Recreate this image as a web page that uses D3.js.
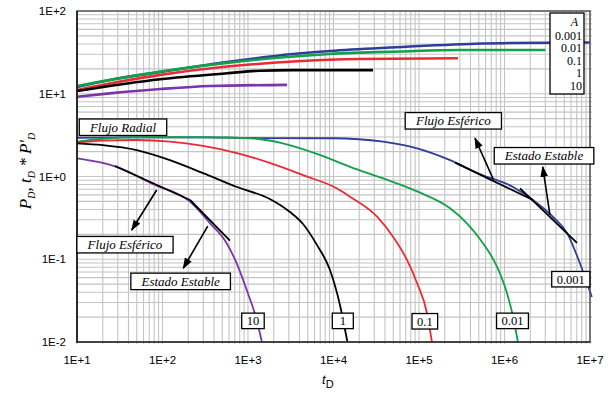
<!DOCTYPE html>
<html>
<head>
<meta charset="utf-8">
<script src="https://cdn.jsdelivr.net/npm/d3@7"></script>
<style>
  body { margin: 0; background: #fff; }
  svg { display: block; }
</style>
</head>
<body>
<svg width="613" height="394"></svg>
<script>
// A values (legend order) and colours
const aLabels = ["0.001", "0.01", "0.1", "1", "10"];
const colors = ["#2e3d9c", "#12a04a", "#ea2b36", "#000000", "#7a35a8"];

// dimensionless pressure P_D  [tD, value]
const pd_0001 = [[10,12.1],[24,14.7],[94,18.3],[570,24.2],[3360,30.2],[9100,32.9],[46000,36.2],[394000,39.9],[1.16e6,41],[1e7,41.6]];
const pd_001  = [[10,12.4],[94,18.5],[570,23.6],[3360,28.2],[9100,30.2],[60000,32.4],[302000,33.8],[3e6,33.8]];
const pd_01   = [[10,11.1],[94,16.9],[570,21.3],[3360,24.5],[20400,26.3],[286000,26.8]];
const pd_1    = [[10,10.8],[94,15.0],[570,17.7],[1380,19.0],[3360,19.3],[29000,19.3]];
const pd_10   = [[10,9.2],[24,10.1],[94,11.4],[360,12.4],[2860,12.8]];

// pressure derivative tD*P'_D  [tD, value]
const der_0001 = [[10,2.94],[50,2.97],[300,2.97],[1050,2.92],[9900,2.90],[38000,2.64],[95000,2.19],[231000,1.58],[516000,1.07],[1.26e6,0.746],[2.15e6,0.52],[3.7e6,0.324],[5.4e6,0.207],[7.6e6,0.09],[1.05e7,0.035]];
const der_001  = [[10,2.64],[20,2.86],[50,2.98],[300,2.98],[1050,2.90],[2560,2.52],[6400,1.88],[15600,1.31],[38000,0.95],[95000,0.66],[231000,0.413],[364000,0.272],[561000,0.156],[817000,0.0813],[1.07e6,0.0388],[1.26e6,0.0202],[1.44e6,0.0098]];
const der_01   = [[10,2.56],[20,2.71],[50,2.76],[122,2.64],[298,2.34],[743,1.92],[1800,1.46],[4400,1.04],[11000,0.716],[15600,0.57],[32300,0.327],[49700,0.187],[72400,0.098],[94800,0.0516],[124000,0.0224],[142000,0.0098]];
const der_1    = [[10,2.52],[20,2.40],[50,2.09],[122,1.58],[298,1.10],[743,0.746],[1800,0.535],[3100,0.372],[4400,0.267],[6400,0.149],[9100,0.074],[11900,0.028],[14600,0.0098]];
const der_10   = [[10,1.66],[20,1.46],[29,1.31],[78,0.81],[210,0.497],[360,0.272],[563,0.156],[738,0.089],[966,0.0425],[1265,0.0184],[1460,0.0098]];

const pressure = [pd_0001, pd_001, pd_01, pd_1, pd_10];
const derivative = [der_0001, der_001, der_01, der_1, der_10];

// axis tick labels
const xTickVals = [1e1, 1e2, 1e3, 1e4, 1e5, 1e6, 1e7];
const xTickText = ["1E+1", "1E+2", "1E+3", "1E+4", "1E+5", "1E+6", "1E+7"];
const yTickVals = [1e2, 1e1, 1e0, 1e-1, 1e-2];
const yTickText = ["1E+2", "1E+1", "1E+0", "1E-1", "1E-2"];

// flow regime tangents and arrows [[tD, v], [tD, v]]
const tangents = [
  [[27.8,1.34],[210,0.52]], [[210,0.52],[615,0.1675]],
  [[2.64e5,1.47],[2.15e6,0.52]], [[1.52e6,0.72],[7.05e6,0.158]]
];
const arrows = [
  [[85.5,0.687],[43.6,0.2255]], [[338,0.252],[175,0.0778]],
  [[7.4e5,0.925],[4.52e5,2.9]], [[3.4e6,0.343],[2.8e6,1.31]]
];
const notes = [
  {text: "Flujo Radial", at: [34.5, 3.94]},
  {text: "Flujo Esférico", at: [36.4, 0.150]},
  {text: "Estado Estable", at: [163, 0.054]},
  {text: "Flujo Esférico", at: [2.52e5, 4.71]},
  {text: "Estado Estable", at: [2.9e6, 1.78]}
];
const curveTags = [
  {text: "10", at: [1143, 0.018]},
  {text: "1", at: [12850, 0.018]},
  {text: "0.1", at: [117000, 0.0178]},
  {text: "0.01", at: [1.24e6, 0.018]},
  {text: "0.001", at: [5.96e6, 0.0574]}
];

const svg = d3.select("svg");
const m = {left: 77, right: 590, top: 11, bottom: 342};

const x = d3.scaleLog().domain([1e1, 1e7]).range([m.left, m.right]);
const y = d3.scaleLog().domain([1e-2, 1e2]).range([m.bottom, m.top]);

// grid
const minorX = [], minorY = [];
for (let e = 1; e < 7; e++) for (let k = 2; k <= 9; k++) minorX.push(k * Math.pow(10, e));
for (let e = -2; e < 2; e++) for (let k = 2; k <= 9; k++) minorY.push(k * Math.pow(10, e));

const grid = svg.append("g");
grid.selectAll(".gx").data(minorX.concat(xTickVals)).join("line")
  .attr("x1", d => x(d)).attr("x2", d => x(d))
  .attr("y1", m.top).attr("y2", m.bottom + 2)
  .attr("stroke", "#c4c4c4").attr("stroke-width", 1.1);
grid.selectAll(".gy").data(minorY.concat(yTickVals)).join("line")
  .attr("y1", d => y(d)).attr("y2", d => y(d))
  .attr("x1", m.left).attr("x2", m.right + 2)
  .attr("stroke", "#c4c4c4").attr("stroke-width", 1.1);

svg.append("clipPath").attr("id", "plot")
  .append("rect").attr("x", m.left).attr("y", m.top)
  .attr("width", m.right - m.left + 3).attr("height", m.bottom - m.top);

const line = d3.line()
  .x(d => x(d[0])).y(d => y(d[1]))
  .curve(d3.curveMonotoneX);

const curves = svg.append("g").attr("clip-path", "url(#plot)");
pressure.forEach((s, i) => {
  curves.append("path").attr("d", line(s))
    .attr("fill", "none").attr("stroke", colors[i]).attr("stroke-width", 2.6);
});
derivative.forEach((s, i) => {
  curves.append("path").attr("d", line(s))
    .attr("fill", "none").attr("stroke", colors[i]).attr("stroke-width", 1.8);
});

// frame
svg.append("rect").attr("x", m.left).attr("y", m.top)
  .attr("width", m.right - m.left).attr("height", m.bottom - m.top)
  .attr("fill", "none").attr("stroke", "#555").attr("stroke-width", 1.5);
svg.append("line").attr("x1", m.left).attr("x2", m.left).attr("y1", m.top).attr("y2", m.bottom + 1)
  .attr("stroke", "#111").attr("stroke-width", 1.5);
svg.append("line").attr("x1", m.left).attr("x2", m.right).attr("y1", m.bottom).attr("y2", m.bottom)
  .attr("stroke", "#333").attr("stroke-width", 1.5);

// tick labels
svg.append("g").selectAll("text").data(xTickVals).join("text")
  .attr("x", d => x(d)).attr("y", 364)
  .attr("text-anchor", "middle")
  .attr("font-family", "Liberation Sans, Arial, sans-serif").attr("font-size", 11.5)
  .text((d, i) => xTickText[i]);
svg.append("g").selectAll("text").data(yTickVals).join("text")
  .attr("x", 66).attr("y", d => y(d) + 4)
  .attr("text-anchor", "end")
  .attr("font-family", "Liberation Sans, Arial, sans-serif").attr("font-size", 11.5)
  .text((d, i) => yTickText[i]);

// axis titles
const xt = svg.append("text").attr("x", 322).attr("y", 384)
  .attr("font-family", "Liberation Sans, Arial, sans-serif").attr("font-size", 13);
xt.append("tspan").attr("font-style", "italic").text("t");
xt.append("tspan").attr("dy", 4).attr("font-size", 11).text("D");

const yt = svg.append("text")
  .attr("transform", "translate(31,171) rotate(-90)")
  .attr("text-anchor", "middle")
  .attr("font-family", "Liberation Serif, Times New Roman, serif")
  .attr("font-style", "italic").attr("font-size", 17);
yt.append("tspan").text("P");
yt.append("tspan").attr("dy", 4).attr("font-size", 10).text("D");
yt.append("tspan").attr("dy", -4).text(",  t");
yt.append("tspan").attr("dy", 4).attr("font-size", 10).text("D");
yt.append("tspan").attr("dy", -4).text(" * P'");
yt.append("tspan").attr("dy", 4).attr("font-size", 10).text("D");

// tangents and arrows
svg.append("defs").append("marker").attr("id", "head")
  .attr("viewBox", "0 0 10 10").attr("refX", 9).attr("refY", 5)
  .attr("markerWidth", 7).attr("markerHeight", 7).attr("orient", "auto")
  .append("path").attr("d", "M0,1.5L10,5L0,8.5Z").attr("fill", "#000");

const ann = svg.append("g");
ann.selectAll(".tan").data(tangents).join("line")
  .attr("x1", d => x(d[0][0])).attr("y1", d => y(d[0][1]))
  .attr("x2", d => x(d[1][0])).attr("y2", d => y(d[1][1]))
  .attr("stroke", "#000").attr("stroke-width", 1.8);
ann.selectAll(".arr").data(arrows).join("line")
  .attr("x1", d => x(d[0][0])).attr("y1", d => y(d[0][1]))
  .attr("x2", d => x(d[1][0])).attr("y2", d => y(d[1][1]))
  .attr("stroke", "#000").attr("stroke-width", 1.6)
  .attr("marker-end", "url(#head)");

function boxed(g, list, opts) {
  list.forEach(n => {
    const cx = x(n.at[0]), cy = y(n.at[1]);
    const grp = g.append("g");
    const r = grp.append("rect");
    const t = grp.append("text").attr("x", cx).attr("y", cy + 4.5)
      .attr("text-anchor", "middle")
      .attr("font-family", "Liberation Serif, Times New Roman, serif")
      .attr("font-size", opts.size).attr("font-style", opts.italic ? "italic" : "normal")
      .text(n.text);
    const bb = t.node().getBBox();
    const w = Math.max(bb.width + opts.padX * 2, opts.minW);
    r.attr("x", cx - w / 2).attr("y", cy - opts.h / 2)
      .attr("width", w).attr("height", opts.h)
      .attr("fill", "#fff").attr("stroke", "#000").attr("stroke-width", 1.3);
  });
}
boxed(svg.append("g"), notes, {size: 13, italic: true, padX: 10, minW: 0, h: 16.5});
boxed(svg.append("g"), curveTags, {size: 12.5, italic: false, padX: 5, minW: 21, h: 15.5});

// legend
const lg = svg.append("g");
lg.append("rect").attr("x", 550).attr("y", 13).attr("width", 34).attr("height", 81)
  .attr("fill", "#fff").attr("stroke", "#000").attr("stroke-width", 1.3);
lg.append("text").attr("x", 578).attr("y", 25.5).attr("text-anchor", "end")
  .attr("font-family", "Liberation Serif, Times New Roman, serif")
  .attr("font-style", "italic").attr("font-size", 12).text("A");
lg.selectAll(".it").data(aLabels).join("text")
  .attr("x", 582).attr("y", (d, i) => 39.5 + i * 12.6)
  .attr("text-anchor", "end")
  .attr("font-family", "Liberation Serif, Times New Roman, serif")
  .attr("font-size", 12).text(d => d);
</script>
</body>
</html>
